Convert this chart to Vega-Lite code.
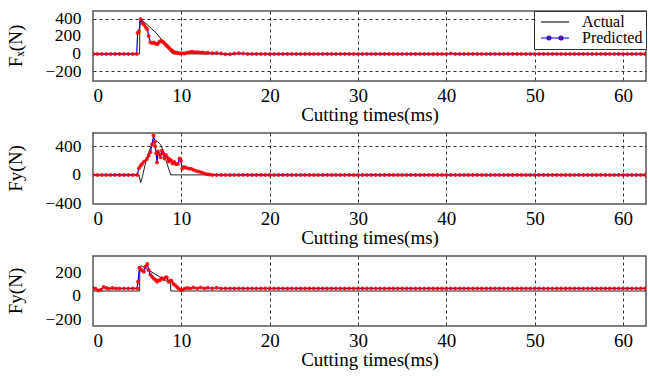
{
"$schema": "https://vega.github.io/schema/vega-lite/v6.json",
"padding": {"left": 6, "top": 9, "right": 0, "bottom": 0},
"background": "white",
"config": {
  "view": {"stroke": "#555", "strokeWidth": 1.5},
  "font": "Liberation Serif, Times New Roman, serif",
  "concat": {"spacing": 7},
  "title": {"font": "Liberation Serif, Times New Roman, serif", "fontSize": 19, "fontWeight": "normal", "color": "black", "orient": "left", "anchor": "middle", "frame": "group", "offset": 19},
  "axis": {"labelFont": "Liberation Serif, Times New Roman, serif", "titleFont": "Liberation Serif, Times New Roman, serif", "labelFontSize": 19, "titleFontSize": 19, "labelColor": "black", "titleColor": "black", "titleFontWeight": "normal", "ticks": false, "domain": false, "gridDash": [3, 3], "gridColor": "#333", "gridWidth": 1, "labelOverlap": false},
  "legend": {"labelFont": "Liberation Serif, Times New Roman, serif", "labelFontSize": 16, "labelColor": "black", "symbolSize": 100, "symbolStrokeWidth": 1.2, "symbolOffset": 10, "labelOffset": 19, "padding": 3, "rowPadding": 0, "strokeColor": "#333", "fillColor": "white", "cornerRadius": 0}
},
"datasets": {
  "fxa": [{"t":0,"v":0},{"t":5.28,"v":0},{"t":5.3,"v":370},{"t":5.45,"v":395},{"t":6.0,"v":345},{"t":6.6,"v":290},{"t":7.2,"v":235},{"t":7.7,"v":170},{"t":8.3,"v":80},{"t":9.0,"v":0},{"t":62.6,"v":0}],
  "fya": [{"t":0,"v":0},{"t":5.2,"v":0},{"t":5.4,"v":-110},{"t":5.6,"v":-20},{"t":5.95,"v":170},{"t":6.2,"v":280},{"t":6.5,"v":380},{"t":6.7,"v":440},{"t":7.0,"v":475},{"t":7.3,"v":470},{"t":7.65,"v":430},{"t":8.0,"v":320},{"t":8.4,"v":150},{"t":8.8,"v":0},{"t":62.6,"v":0}],
  "fza": [{"t":0,"v":0},{"t":5.28,"v":0},{"t":5.3,"v":210},{"t":5.5,"v":215},{"t":8.78,"v":65},{"t":8.8,"v":0},{"t":62.6,"v":0}],
  "ticks1": [{"v":200,"s":"200"},{"v":0,"s":"0"}],
  "ticks2": [{"v":0,"s":"0"}],
  "ticks3": [{"v":0,"s":"0"}],
  "fxp": [{"t":0,"v":0},{"t":0.5,"v":0},{"t":1,"v":0},{"t":1.5,"v":0},{"t":2,"v":0},{"t":2.5,"v":0},{"t":3,"v":0},{"t":3.5,"v":0},{"t":4,"v":0},{"t":4.5,"v":0},{"t":4.95,"v":0},{"t":5.05,"v":240},{"t":5.2,"v":255},{"t":5.4,"v":395},{"t":5.6,"v":350},{"t":5.8,"v":330},{"t":6.0,"v":300},{"t":6.15,"v":280},{"t":6.3,"v":205},{"t":6.5,"v":130},{"t":6.7,"v":125},{"t":6.9,"v":130},{"t":7.1,"v":115},{"t":7.3,"v":110},{"t":7.5,"v":135},{"t":7.7,"v":150},{"t":7.9,"v":140},{"t":8.05,"v":125},{"t":8.25,"v":105},{"t":8.4,"v":90},{"t":8.6,"v":70},{"t":8.8,"v":50},{"t":9.0,"v":35},{"t":9.2,"v":20},{"t":9.4,"v":15},{"t":9.6,"v":10},{"t":9.8,"v":5},{"t":10.0,"v":8},{"t":10.3,"v":5},{"t":10.6,"v":12},{"t":10.9,"v":20},{"t":11.2,"v":25},{"t":11.5,"v":20},{"t":11.8,"v":18},{"t":12.1,"v":15},{"t":12.4,"v":15},{"t":12.7,"v":10},{"t":13.0,"v":12},{"t":13.5,"v":8},{"t":14,"v":10},{"t":14.5,"v":5},{"t":15,"v":-3},{"t":15.5,"v":-5},{"t":16,"v":3},{"t":16.5,"v":8},{"t":17,"v":4},{"t":17.5,"v":0},{"t":18,"v":0},{"t":18.5,"v":0},{"t":19,"v":0},{"t":19.5,"v":0},{"t":20,"v":0},{"t":20.5,"v":0},{"t":21,"v":0},{"t":21.5,"v":0},{"t":22,"v":0},{"t":22.5,"v":0},{"t":23,"v":0},{"t":23.5,"v":0},{"t":24,"v":0},{"t":24.5,"v":0},{"t":25,"v":0},{"t":25.5,"v":0},{"t":26,"v":0},{"t":26.5,"v":0},{"t":27,"v":0},{"t":27.5,"v":0},{"t":28,"v":0},{"t":28.5,"v":0},{"t":29,"v":0},{"t":29.5,"v":0},{"t":30,"v":0},{"t":30.5,"v":0},{"t":31,"v":0},{"t":31.5,"v":0},{"t":32,"v":0},{"t":32.5,"v":0},{"t":33,"v":0},{"t":33.5,"v":0},{"t":34,"v":0},{"t":34.5,"v":0},{"t":35,"v":0},{"t":35.5,"v":0},{"t":36,"v":0},{"t":36.5,"v":0},{"t":37,"v":0},{"t":37.5,"v":0},{"t":38,"v":0},{"t":38.5,"v":0},{"t":39,"v":0},{"t":39.5,"v":0},{"t":40,"v":0},{"t":40.5,"v":4},{"t":41,"v":0},{"t":41.5,"v":0},{"t":42,"v":0},{"t":42.5,"v":0},{"t":43,"v":0},{"t":43.5,"v":0},{"t":44,"v":0},{"t":44.5,"v":0},{"t":45,"v":0},{"t":45.5,"v":0},{"t":46,"v":0},{"t":46.5,"v":0},{"t":47,"v":0},{"t":47.5,"v":0},{"t":48,"v":0},{"t":48.5,"v":0},{"t":49,"v":0},{"t":49.5,"v":0},{"t":50,"v":0},{"t":50.5,"v":0},{"t":51,"v":0},{"t":51.5,"v":0},{"t":52,"v":0},{"t":52.5,"v":0},{"t":53,"v":0},{"t":53.5,"v":0},{"t":54,"v":0},{"t":54.5,"v":0},{"t":55,"v":0},{"t":55.5,"v":0},{"t":56,"v":0},{"t":56.5,"v":0},{"t":57,"v":0},{"t":57.5,"v":0},{"t":58,"v":0},{"t":58.5,"v":0},{"t":59,"v":0},{"t":59.5,"v":0},{"t":60,"v":0},{"t":60.5,"v":0},{"t":61,"v":0},{"t":61.5,"v":0},{"t":62,"v":0},{"t":62.5,"v":0}],
  "fyp": [{"t":0,"v":0},{"t":0.5,"v":0},{"t":1,"v":0},{"t":1.5,"v":0},{"t":2,"v":0},{"t":2.5,"v":0},{"t":3,"v":0},{"t":3.5,"v":0},{"t":4,"v":0},{"t":4.5,"v":0},{"t":5,"v":0},{"t":5.2,"v":95},{"t":5.4,"v":130},{"t":5.55,"v":155},{"t":5.8,"v":190},{"t":6.1,"v":225},{"t":6.3,"v":270},{"t":6.5,"v":320},{"t":6.7,"v":430},{"t":6.85,"v":555},{"t":7.0,"v":470},{"t":7.05,"v":400},{"t":7.15,"v":300},{"t":7.25,"v":175},{"t":7.35,"v":330},{"t":7.5,"v":290},{"t":7.65,"v":250},{"t":7.8,"v":340},{"t":7.95,"v":300},{"t":8.1,"v":230},{"t":8.25,"v":280},{"t":8.4,"v":250},{"t":8.55,"v":190},{"t":8.7,"v":220},{"t":8.85,"v":200},{"t":9.0,"v":160},{"t":9.2,"v":180},{"t":9.4,"v":150},{"t":9.6,"v":155},{"t":9.8,"v":230},{"t":9.95,"v":200},{"t":10.1,"v":85},{"t":10.3,"v":110},{"t":10.5,"v":100},{"t":10.8,"v":90},{"t":11.1,"v":85},{"t":11.4,"v":70},{"t":11.7,"v":55},{"t":12.0,"v":45},{"t":12.3,"v":35},{"t":12.6,"v":20},{"t":12.9,"v":10},{"t":13.2,"v":5},{"t":13.5,"v":0},{"t":14,"v":0},{"t":14.5,"v":0},{"t":15,"v":0},{"t":15.5,"v":0},{"t":16,"v":0},{"t":16.5,"v":0},{"t":17,"v":0},{"t":17.5,"v":0},{"t":18,"v":0},{"t":18.5,"v":0},{"t":19,"v":0},{"t":19.5,"v":0},{"t":20,"v":0},{"t":20.5,"v":0},{"t":21,"v":0},{"t":21.5,"v":0},{"t":22,"v":0},{"t":22.5,"v":0},{"t":23,"v":0},{"t":23.5,"v":0},{"t":24,"v":0},{"t":24.5,"v":0},{"t":25,"v":0},{"t":25.5,"v":0},{"t":26,"v":0},{"t":26.5,"v":0},{"t":27,"v":0},{"t":27.5,"v":0},{"t":28,"v":0},{"t":28.5,"v":0},{"t":29,"v":0},{"t":29.5,"v":0},{"t":30,"v":0},{"t":30.5,"v":0},{"t":31,"v":0},{"t":31.5,"v":0},{"t":32,"v":0},{"t":32.5,"v":0},{"t":33,"v":0},{"t":33.5,"v":0},{"t":34,"v":0},{"t":34.5,"v":0},{"t":35,"v":0},{"t":35.5,"v":0},{"t":36,"v":0},{"t":36.5,"v":0},{"t":37,"v":0},{"t":37.5,"v":0},{"t":38,"v":0},{"t":38.5,"v":0},{"t":39,"v":0},{"t":39.5,"v":0},{"t":40,"v":0},{"t":40.5,"v":0},{"t":41,"v":0},{"t":41.5,"v":0},{"t":42,"v":0},{"t":42.5,"v":0},{"t":43,"v":0},{"t":43.5,"v":0},{"t":44,"v":0},{"t":44.5,"v":0},{"t":45,"v":0},{"t":45.5,"v":0},{"t":46,"v":0},{"t":46.5,"v":0},{"t":47,"v":0},{"t":47.5,"v":0},{"t":48,"v":0},{"t":48.5,"v":0},{"t":49,"v":0},{"t":49.5,"v":0},{"t":50,"v":0},{"t":50.5,"v":0},{"t":51,"v":0},{"t":51.5,"v":0},{"t":52,"v":0},{"t":52.5,"v":0},{"t":53,"v":0},{"t":53.5,"v":0},{"t":54,"v":0},{"t":54.5,"v":0},{"t":55,"v":0},{"t":55.5,"v":0},{"t":56,"v":0},{"t":56.5,"v":0},{"t":57,"v":0},{"t":57.5,"v":0},{"t":58,"v":0},{"t":58.5,"v":0},{"t":59,"v":0},{"t":59.5,"v":0},{"t":60,"v":0},{"t":60.5,"v":0},{"t":61,"v":0},{"t":61.5,"v":0},{"t":62,"v":0},{"t":62.5,"v":0}],
  "fzp": [{"t":0,"v":25},{"t":0.3,"v":20},{"t":0.6,"v":5},{"t":0.9,"v":10},{"t":1.2,"v":35},{"t":1.5,"v":25},{"t":1.8,"v":20},{"t":2.2,"v":25},{"t":2.6,"v":22},{"t":3,"v":22},{"t":3.5,"v":22},{"t":4,"v":22},{"t":4.5,"v":22},{"t":5,"v":22},{"t":5.1,"v":80},{"t":5.25,"v":200},{"t":5.4,"v":185},{"t":5.6,"v":175},{"t":5.75,"v":165},{"t":5.95,"v":210},{"t":6.15,"v":232},{"t":6.3,"v":180},{"t":6.5,"v":140},{"t":6.7,"v":120},{"t":6.9,"v":105},{"t":7.1,"v":95},{"t":7.25,"v":80},{"t":7.45,"v":90},{"t":7.6,"v":95},{"t":7.8,"v":110},{"t":8.0,"v":100},{"t":8.2,"v":115},{"t":8.35,"v":118},{"t":8.55,"v":80},{"t":8.75,"v":90},{"t":8.9,"v":85},{"t":9.1,"v":60},{"t":9.3,"v":50},{"t":9.5,"v":35},{"t":9.7,"v":22},{"t":9.9,"v":10},{"t":10.1,"v":8},{"t":10.4,"v":22},{"t":10.7,"v":25},{"t":11,"v":22},{"t":11.4,"v":30},{"t":11.8,"v":22},{"t":12.2,"v":30},{"t":12.6,"v":22},{"t":13,"v":28},{"t":13.5,"v":22},{"t":14,"v":28},{"t":14.5,"v":22},{"t":15,"v":22},{"t":15.5,"v":22},{"t":16,"v":22},{"t":16.5,"v":22},{"t":17,"v":22},{"t":17.5,"v":22},{"t":18,"v":22},{"t":18.5,"v":22},{"t":19,"v":22},{"t":19.5,"v":22},{"t":20,"v":22},{"t":20.5,"v":22},{"t":21,"v":22},{"t":21.5,"v":22},{"t":22,"v":22},{"t":22.5,"v":22},{"t":23,"v":22},{"t":23.5,"v":22},{"t":24,"v":22},{"t":24.5,"v":22},{"t":25,"v":22},{"t":25.5,"v":22},{"t":26,"v":22},{"t":26.5,"v":22},{"t":27,"v":22},{"t":27.5,"v":22},{"t":28,"v":22},{"t":28.5,"v":22},{"t":29,"v":22},{"t":29.5,"v":22},{"t":30,"v":22},{"t":30.5,"v":22},{"t":31,"v":22},{"t":31.5,"v":22},{"t":32,"v":22},{"t":32.5,"v":22},{"t":33,"v":22},{"t":33.5,"v":22},{"t":34,"v":22},{"t":34.5,"v":22},{"t":35,"v":22},{"t":35.5,"v":22},{"t":36,"v":22},{"t":36.5,"v":22},{"t":37,"v":22},{"t":37.5,"v":22},{"t":38,"v":22},{"t":38.5,"v":22},{"t":39,"v":22},{"t":39.5,"v":22},{"t":40,"v":22},{"t":40.5,"v":22},{"t":41,"v":22},{"t":41.5,"v":22},{"t":42,"v":22},{"t":42.5,"v":22},{"t":43,"v":22},{"t":43.5,"v":22},{"t":44,"v":22},{"t":44.5,"v":22},{"t":45,"v":22},{"t":45.5,"v":22},{"t":46,"v":22},{"t":46.5,"v":22},{"t":47,"v":22},{"t":47.5,"v":22},{"t":48,"v":22},{"t":48.5,"v":22},{"t":49,"v":22},{"t":49.5,"v":22},{"t":50,"v":22},{"t":50.5,"v":22},{"t":51,"v":22},{"t":51.5,"v":22},{"t":52,"v":22},{"t":52.5,"v":22},{"t":53,"v":22},{"t":53.5,"v":22},{"t":54,"v":22},{"t":54.5,"v":22},{"t":55,"v":22},{"t":55.5,"v":22},{"t":56,"v":22},{"t":56.5,"v":22},{"t":57,"v":22},{"t":57.5,"v":22},{"t":58,"v":22},{"t":58.5,"v":22},{"t":59,"v":22},{"t":59.5,"v":22},{"t":60,"v":22},{"t":60.5,"v":22},{"t":61,"v":22},{"t":61.5,"v":22},{"t":62,"v":22},{"t":62.5,"v":22}]
},
"resolve": {"scale": {"color": "independent"}, "legend": {"color": "independent"}},
"vconcat": [
  {
    "width": 553, "height": 70,
    "title": {"text": "Fₓ(N)"},
    "layer": [
      {"data": {"name": "fxa"}, "mark": {"type": "line", "strokeWidth": 1, "clip": true},
       "encoding": {
         "x": {"field": "t", "type": "quantitative", "scale": {"domain": [0, 62.6], "nice": false, "zero": false}, "axis": {"values": [0,10,20,30,40,50,60], "title": "Cutting times(ms)", "labelPadding": 5, "titlePadding": 0, "labelOverlap": false, "gridOpacity": {"condition": {"test": "datum.value === 0", "value": 0}, "value": 1}}},
         "y": {"field": "v", "type": "quantitative", "scale": {"domain": [-310, 490], "nice": false, "zero": false}, "axis": {"values": [-200, 0, 200, 400], "labelExpr": "datum.value === 0 || datum.value === 200 ? '' : datum.label", "title": null, "labelFontSize": 17.5, "labelOverlap": false, "labelPadding": 12}},
         "color": {"datum": "Actual", "type": "nominal", "scale": {"domain": ["Actual", "Predicted"], "range": ["#222222", "#0000ff"]},
           "legend": {"orient": "top-right", "offset": 0, "title": null,
             "encode": {"symbols": {"update": {
               "shape": {"signal": "datum.value === 'Predicted' ? 'M-2.8,0H2.8M-1.6,0a0.4,0.4 0 1,0 0.8,0a0.4,0.4 0 1,0 -0.8,0M0.8,0a0.4,0.4 0 1,0 0.8,0a0.4,0.4 0 1,0 -0.8,0' : 'M-2.8,0H2.8'"},
               "fill": {"signal": "datum.value === 'Predicted' ? '#ff0000' : 'transparent'"}}}}}}
       }},
      {"data": {"name": "fxp"}, "mark": {"type": "line", "strokeWidth": 1.2, "clip": true},
       "encoding": {
         "x": {"field": "t", "type": "quantitative"},
         "y": {"field": "v", "type": "quantitative"},
         "color": {"datum": "Predicted", "type": "nominal"}}},
      {"data": {"name": "fxp"}, "mark": {"type": "point", "filled": true, "size": 16, "color": "#ff0000", "opacity": 0.85, "clip": true},
       "encoding": {
         "x": {"field": "t", "type": "quantitative"},
         "y": {"field": "v", "type": "quantitative"}}},
      {"data": {"name": "ticks1"}, "mark": {"type": "text", "align": "right", "baseline": "middle", "dx": -12, "fontSize": 17.5, "font": "Liberation Serif, Times New Roman, serif", "color": "black"},
       "encoding": {
         "x": {"datum": 0, "type": "quantitative"},
         "y": {"field": "v", "type": "quantitative"},
         "text": {"field": "s"}}}
    ]
  },
  {
    "width": 553, "height": 71,
    "title": {"text": "Fy(N)"},
    "layer": [
      {"data": {"name": "fya"}, "mark": {"type": "line", "strokeWidth": 1, "color": "#222222", "clip": true},
       "encoding": {
         "x": {"field": "t", "type": "quantitative", "scale": {"domain": [0, 62.6], "nice": false, "zero": false}, "axis": {"values": [0,10,20,30,40,50,60], "title": "Cutting times(ms)", "labelPadding": 5, "titlePadding": 0, "labelOverlap": false, "gridOpacity": {"condition": {"test": "datum.value === 0", "value": 0}, "value": 1}}},
         "y": {"field": "v", "type": "quantitative", "scale": {"domain": [-410, 590], "nice": false, "zero": false}, "axis": {"values": [-400, -200, 0, 200, 400], "labelExpr": "abs(datum.value) === 200 || datum.value === 0 ? '' : datum.label", "title": null, "labelFontSize": 17.5, "labelOverlap": false, "labelPadding": 12, "gridOpacity": {"condition": {"test": "datum.value === -400", "value": 0}, "value": 1}}}
       }},
      {"data": {"name": "fyp"}, "mark": {"type": "line", "strokeWidth": 1.2, "color": "#0000ff", "clip": true},
       "encoding": {
         "x": {"field": "t", "type": "quantitative"},
         "y": {"field": "v", "type": "quantitative"}}},
      {"data": {"name": "fyp"}, "mark": {"type": "point", "filled": true, "size": 16, "color": "#ff0000", "opacity": 0.85, "clip": true},
       "encoding": {
         "x": {"field": "t", "type": "quantitative"},
         "y": {"field": "v", "type": "quantitative"}}},
      {"data": {"name": "ticks2"}, "mark": {"type": "text", "align": "right", "baseline": "middle", "dx": -12, "fontSize": 17.5, "font": "Liberation Serif, Times New Roman, serif", "color": "black"},
       "encoding": {
         "x": {"datum": 0, "type": "quantitative"},
         "y": {"field": "v", "type": "quantitative"},
         "text": {"field": "s"}}}
    ]
  },
  {
    "width": 553, "height": 70,
    "title": {"text": "Fy(N)"},
    "layer": [
      {"data": {"name": "fza"}, "mark": {"type": "line", "strokeWidth": 1, "color": "#222222", "clip": true},
       "encoding": {
         "x": {"field": "t", "type": "quantitative", "scale": {"domain": [0, 62.6], "nice": false, "zero": false}, "axis": {"values": [0,10,20,30,40,50,60], "title": "Cutting times(ms)", "labelPadding": 5, "titlePadding": 0, "labelOverlap": false, "gridOpacity": {"condition": {"test": "datum.value === 0", "value": 0}, "value": 1}}},
         "y": {"field": "v", "type": "quantitative", "scale": {"domain": [-300, 300], "nice": false, "zero": false}, "axis": {"values": [-200, 0, 200], "labelExpr": "datum.value === 0 ? '' : datum.label", "title": null, "labelFontSize": 17.5, "labelOverlap": false, "labelPadding": 12, "labelOffset": 5, "gridOpacity": {"condition": {"test": "datum.value === 0", "value": 1}, "value": 0}}}
       }},
      {"data": {"name": "fzp"}, "mark": {"type": "line", "strokeWidth": 1.2, "color": "#0000ff", "clip": true},
       "encoding": {
         "x": {"field": "t", "type": "quantitative"},
         "y": {"field": "v", "type": "quantitative"}}},
      {"data": {"name": "fzp"}, "mark": {"type": "point", "filled": true, "size": 16, "color": "#ff0000", "opacity": 0.85, "clip": true},
       "encoding": {
         "x": {"field": "t", "type": "quantitative"},
         "y": {"field": "v", "type": "quantitative"}}},
      {"data": {"name": "ticks3"}, "mark": {"type": "text", "align": "right", "baseline": "middle", "dx": -12, "dy": 5, "fontSize": 17.5, "font": "Liberation Serif, Times New Roman, serif", "color": "black"},
       "encoding": {
         "x": {"datum": 0, "type": "quantitative"},
         "y": {"field": "v", "type": "quantitative"},
         "text": {"field": "s"}}}
    ]
  }
]
}
